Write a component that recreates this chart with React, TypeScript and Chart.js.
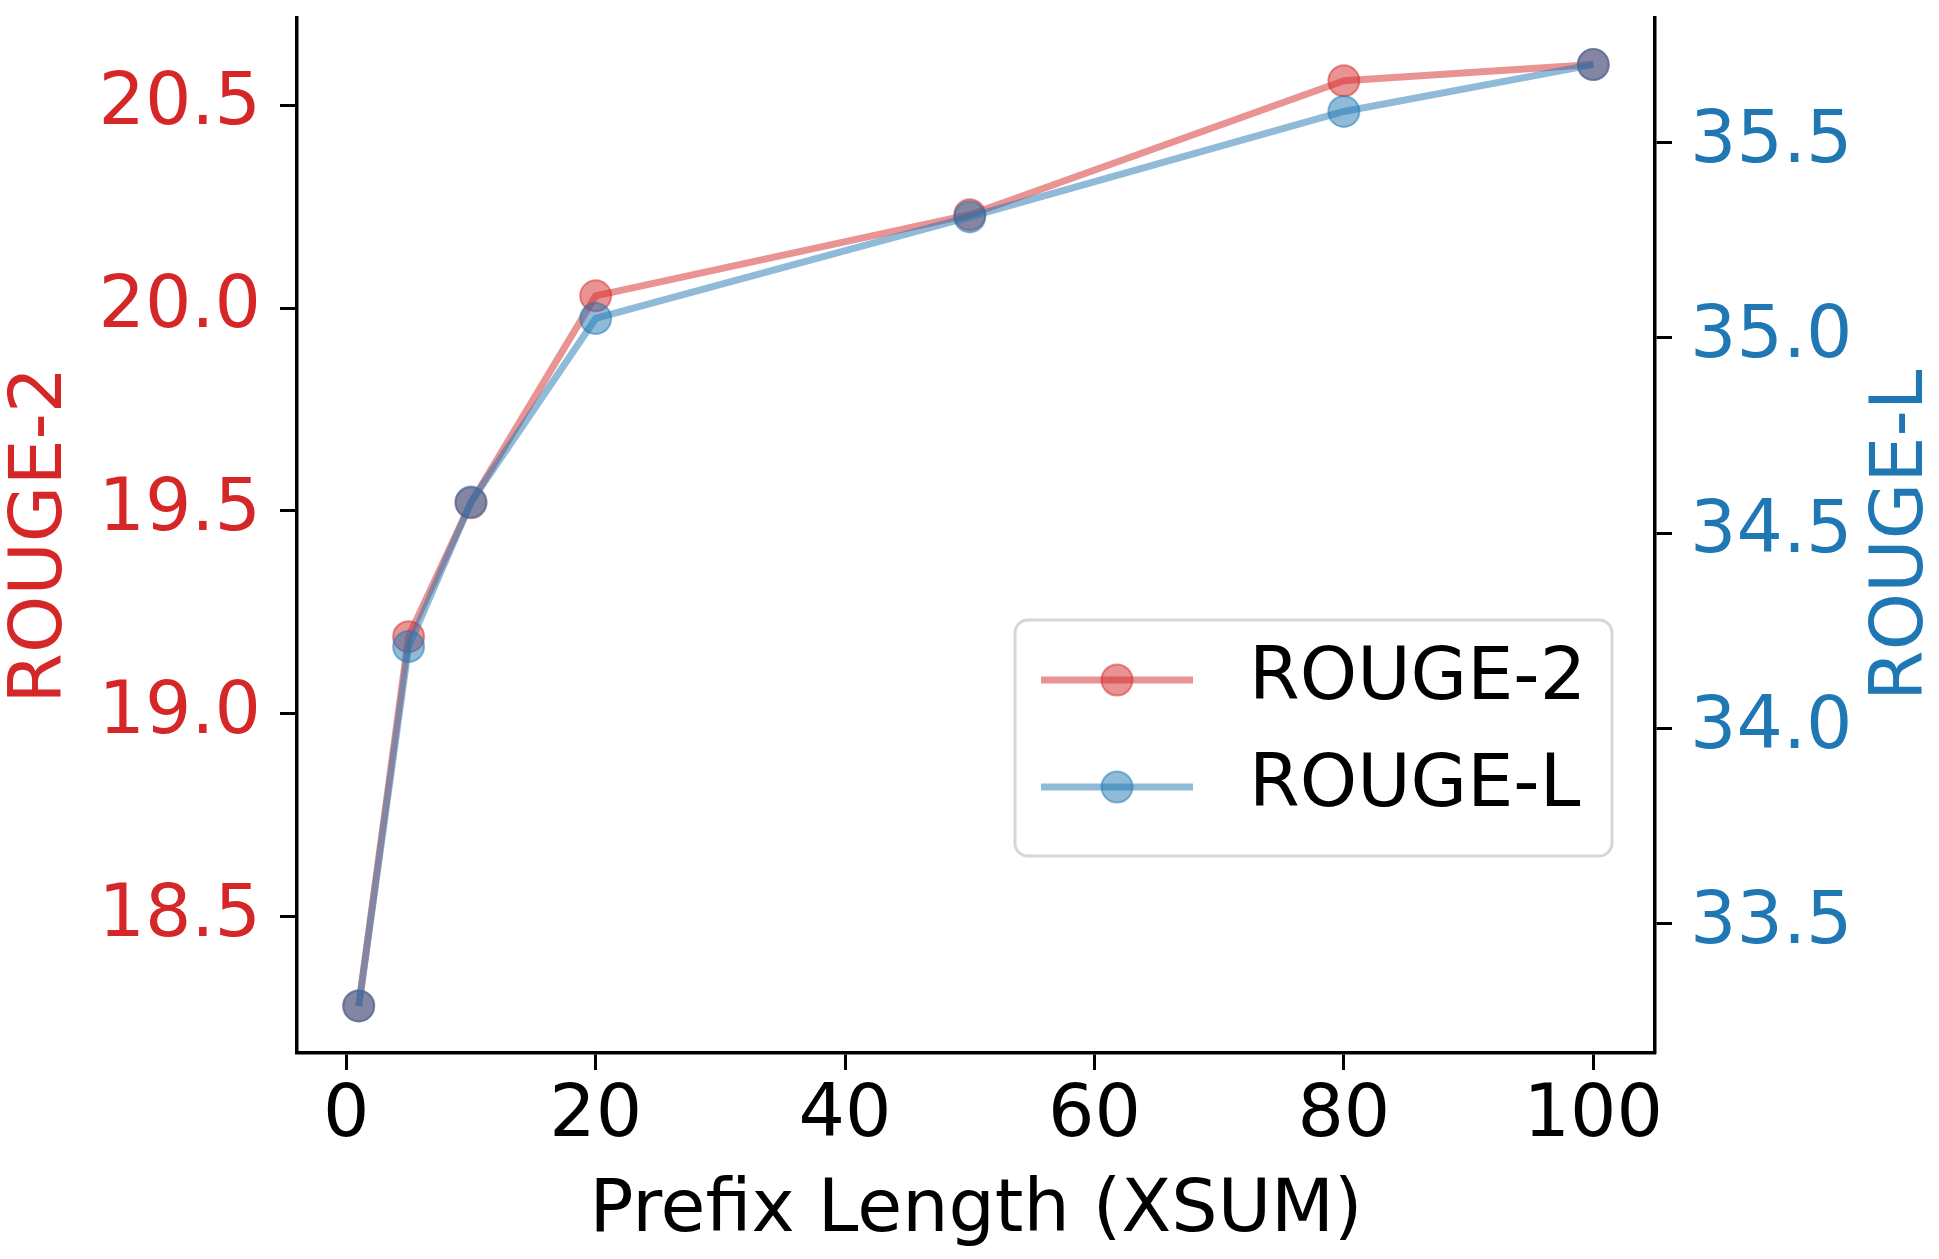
import React, { useEffect, useRef } from "react";
import { Chart, registerables } from "chart.js";

Chart.register(...registerables);

// ---- data ----
const prefixLengths = [1, 5, 10, 20, 50, 80, 100];
const rouge2 = [18.28, 19.19, 19.52, 20.03, 20.23, 20.56, 20.6];
const rougeL = [33.29, 34.21, 34.58, 35.05, 35.31, 35.58, 35.7];

const xTicks = [0, 20, 40, 60, 80, 100];
const rouge2Ticks = [18.5, 19.0, 19.5, 20.0, 20.5];
const rougeLTicks = [33.5, 34.0, 34.5, 35.0, 35.5];

const xTitle = "Prefix Length (XSUM)";
const leftTitle = "ROUGE-2";
const rightTitle = "ROUGE-L";

// ---- styling ----
const RED = "#d62728";
const BLUE = "#1f77b4";
const RED_A = "rgba(214, 39, 40, 0.5)";
const BLUE_A = "rgba(31, 119, 180, 0.5)";
const FONT = "'DejaVu Sans', sans-serif";
const FS = 73;

// matplotlib-style 5% autoscale margins
const padded = (vals: number[]) => {
  const lo = Math.min(...vals);
  const hi = Math.max(...vals);
  const m = (hi - lo) * 0.05;
  return { min: lo - m, max: hi + m };
};

const axisGrid = {
  display: true,
  drawOnChartArea: false,
  drawTicks: true,
  tickLength: 17,
  tickWidth: 3,
  tickColor: "#000",
};
const axisBorder = { display: true, color: "#000", width: 3.5 };

const fixTicks = (vals: number[]) => (scale: any) => {
  scale.ticks = vals.map((value) => ({ value }));
};

// legend box drawn the matplotlib way
const boxLegend = {
  id: "boxLegend",
  afterDatasetsDraw(chart: any) {
    const { ctx, chartArea } = chart;
    const w = 597;
    const h = 236;
    const x0 = chartArea.right - 43 - w;
    const y0 = chartArea.bottom - 197 - h;
    ctx.save();
    ctx.beginPath();
    ctx.roundRect(x0, y0, w, h, 13);
    ctx.fillStyle = "rgba(255,255,255,0.8)";
    ctx.fill();
    ctx.lineWidth = 3;
    ctx.strokeStyle = "rgba(204,204,204,0.8)";
    ctx.stroke();
    chart.data.datasets.forEach((ds: any, i: number) => {
      const cy = y0 + 60 + i * 107;
      ctx.lineCap = "butt";
      ctx.lineWidth = ds.borderWidth;
      ctx.strokeStyle = ds.borderColor;
      ctx.beginPath();
      ctx.moveTo(x0 + 26, cy);
      ctx.lineTo(x0 + 178, cy);
      ctx.stroke();
      ctx.beginPath();
      ctx.arc(x0 + 102, cy, ds.pointRadius, 0, Math.PI * 2);
      ctx.fillStyle = ds.pointBackgroundColor;
      ctx.fill();
      ctx.lineWidth = ds.pointBorderWidth;
      ctx.strokeStyle = ds.pointBorderColor;
      ctx.stroke();
      ctx.fillStyle = "#000";
      ctx.font = `${FS}px ${FONT}`;
      ctx.textAlign = "left";
      ctx.textBaseline = "middle";
      ctx.fillText(ds.label, x0 + 234, cy);
    });
    ctx.restore();
  },
};

// right axis title reads bottom-to-top like matplotlib
const rightAxisTitle = {
  id: "rightAxisTitle",
  afterDraw(chart: any) {
    const { ctx, chartArea } = chart;
    const y2 = chart.scales.y2;
    ctx.save();
    ctx.translate(y2.right - 36, (chartArea.top + chartArea.bottom) / 2);
    ctx.rotate(-Math.PI / 2);
    ctx.fillStyle = BLUE;
    ctx.font = `${FS}px ${FONT}`;
    ctx.textAlign = "center";
    ctx.textBaseline = "middle";
    ctx.fillText(rightTitle, 0, 0);
    ctx.restore();
  },
};

export default function App() {
  const canvasRef = useRef<HTMLCanvasElement | null>(null);

  useEffect(() => {
    document.body.style.margin = "0";
    const ctx = canvasRef.current?.getContext("2d");
    if (!ctx) return;

    const xr = padded(prefixLengths);
    const lr = padded(rouge2);
    const rr = padded(rougeL);

    const chart = new Chart(ctx, {
      type: "line",
      data: {
        datasets: [
          {
            label: "ROUGE-2",
            data: prefixLengths.map((x, i) => ({ x, y: rouge2[i] })),
            yAxisID: "y",
            borderColor: RED_A,
            backgroundColor: RED_A,
            borderWidth: 7,
            borderJoinStyle: "round",
            pointRadius: 15.5,
            pointBorderWidth: 2,
            pointBackgroundColor: RED_A,
            pointBorderColor: RED_A,
            tension: 0,
            order: 1,
          },
          {
            label: "ROUGE-L",
            data: prefixLengths.map((x, i) => ({ x, y: rougeL[i] })),
            yAxisID: "y2",
            borderColor: BLUE_A,
            backgroundColor: BLUE_A,
            borderWidth: 7,
            borderJoinStyle: "round",
            pointRadius: 15.5,
            pointBorderWidth: 2,
            pointBackgroundColor: BLUE_A,
            pointBorderColor: BLUE_A,
            tension: 0,
            order: 0,
          },
        ],
      },
      options: {
        animation: false,
        responsive: false,
        devicePixelRatio: 1,
        layout: { padding: { top: 14, left: 0, right: 0, bottom: 0 } },
        plugins: {
          legend: { display: false },
          tooltip: { enabled: false },
        },
        scales: {
          x: {
            type: "linear",
            position: "bottom",
            min: xr.min,
            max: xr.max,
            afterBuildTicks: fixTicks(xTicks),
            afterFit: (s: any) => {
              s.height = 206;
              s.paddingLeft = 0;
              s.paddingRight = 0;
            },
            grid: axisGrid,
            border: axisBorder,
            ticks: {
              color: "#000",
              padding: 3,
              font: { family: FONT, size: FS, lineHeight: 1.2 },
              callback: (v: any) => String(v),
            },
            title: {
              display: true,
              text: xTitle,
              color: "#000",
              font: { family: FONT, size: FS, lineHeight: 1 },
              padding: { top: 0, bottom: 10 },
            },
          },
          y: {
            type: "linear",
            position: "left",
            min: lr.min,
            max: lr.max,
            afterBuildTicks: fixTicks(rouge2Ticks),
            afterFit: (s: any) => {
              s.width = 297;
              s.paddingTop = 0;
              s.paddingBottom = 0;
            },
            grid: axisGrid,
            border: axisBorder,
            ticks: {
              color: RED,
              padding: 19,
              font: { family: FONT, size: FS, lineHeight: 1.2 },
              callback: (v: any) => Number(v).toFixed(1),
            },
            title: {
              display: true,
              text: leftTitle,
              color: RED,
              font: { family: FONT, size: FS, lineHeight: 1 },
              padding: { top: 6, bottom: 0 },
            },
          },
          y2: {
            type: "linear",
            position: "right",
            min: rr.min,
            max: rr.max,
            afterBuildTicks: fixTicks(rougeLTicks),
            afterFit: (s: any) => {
              s.width = 1939 - 1655;
              s.paddingTop = 0;
              s.paddingBottom = 0;
            },
            grid: axisGrid,
            border: axisBorder,
            ticks: {
              color: BLUE,
              padding: 18,
              font: { family: FONT, size: FS, lineHeight: 1.2 },
              callback: (v: any) => Number(v).toFixed(1),
            },
          },
        },
      },
      plugins: [boxLegend, rightAxisTitle],
    } as any);

    return () => chart.destroy();
  }, []);

  return (
    <div style={{ width: 1939, height: 1259, background: "#fff" }}>
      <canvas
        ref={canvasRef}
        width={1939}
        height={1259}
        style={{ width: 1939, height: 1259, display: "block" }}
      />
    </div>
  );
}
